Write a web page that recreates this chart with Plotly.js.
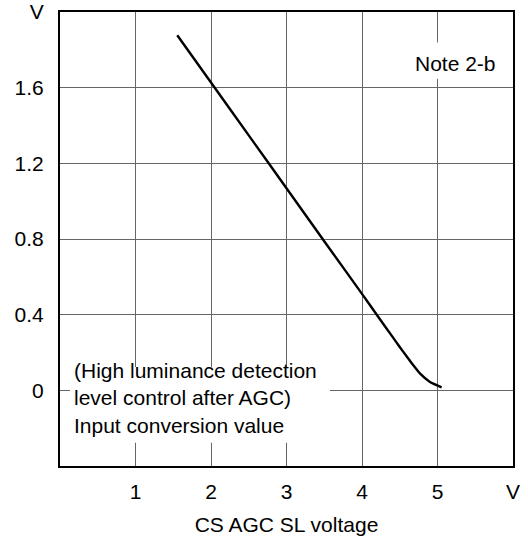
<!DOCTYPE html>
<html><head><meta charset="utf-8">
<script src="https://cdn.plot.ly/plotly-3.0.1.min.js"></script>
<style>body{margin:0;background:#fff}#c{width:528px;height:542px}</style>
</head><body><div id="c"></div>
<script>
const xVals = [1.553, 2.0, 2.5, 3.0, 3.5, 4.0, 4.2, 4.4, 4.5, 4.6, 4.68, 4.77, 4.9, 5.055];
const yVals = [1.877, 1.627, 1.348, 1.068, 0.788, 0.51, 0.397, 0.285, 0.229, 0.175, 0.132, 0.088, 0.044, 0.016];
const xTicks = [1, 2, 3, 4, 5, 6];
const xTickText = ['1', '2', '3', '4', '5', 'V'];
const yTicks = [0, 0.4, 0.8, 1.2, 1.6, 2.0];
const yTickText = ['0', '0.4', '0.8', '1.2', '1.6', 'V'];

const font = {family: 'Liberation Sans, Arial, sans-serif', size: 21, color: '#000'};
Plotly.newPlot('c', [{
  x: xVals, y: yVals, mode: 'lines', type: 'scatter',
  line: {color: '#000', width: 2.4, shape: 'spline', smoothing: 0.5},
  hoverinfo: 'skip'
}], {
  width: 528, height: 542,
  margin: {l: 60, r: 15, t: 12, b: 76},
  paper_bgcolor: '#fff', plot_bgcolor: '#fff',
  showlegend: false,
  font: font,
  xaxis: {
    range: [0, 6], tickvals: xTicks, ticktext: xTickText,
    showgrid: true, gridcolor: '#666', gridwidth: 1,
    showline: true, linecolor: '#000', linewidth: 2, mirror: true,
    zeroline: false, ticks: 'outside', ticklen: 6, tickcolor: 'rgba(0,0,0,0)', tickfont: font,
    title: {text: 'CS AGC SL voltage', font: font, standoff: 15}
  },
  yaxis: {
    range: [-0.4, 2.0], tickvals: yTicks, ticktext: yTickText,
    showgrid: true, gridcolor: '#666', gridwidth: 1,
    showline: true, linecolor: '#000', linewidth: 2, mirror: true,
    zeroline: false, ticks: 'outside', ticklen: 10, tickcolor: 'rgba(0,0,0,0)', tickfont: font
  },
  shapes: [
    {type: 'rect', xref: 'paper', yref: 'paper', x0: 0.022, x1: 0.596, y0: 0.051, y1: 0.218,
     fillcolor: '#fff', line: {width: 0}, layer: 'above'},
    {type: 'rect', xref: 'paper', yref: 'paper', x0: 0.77, x1: 0.978, y0: 0.853, y1: 0.933,
     fillcolor: '#fff', line: {width: 0}, layer: 'above'}
  ],
  annotations: [
    {xref: 'paper', yref: 'paper', x: 0.78, y: 0.886, xanchor: 'left', yanchor: 'middle',
     text: 'Note 2-b', showarrow: false, font: font},
    {xref: 'paper', yref: 'paper', x: 0.026, y: 0.149, xanchor: 'left', yanchor: 'middle',
     align: 'left', text: '(High luminance detection<br>level control after AGC)<br>Input conversion value',
     showarrow: false, font: font}
  ]
}, {staticPlot: true});
</script></body></html>
